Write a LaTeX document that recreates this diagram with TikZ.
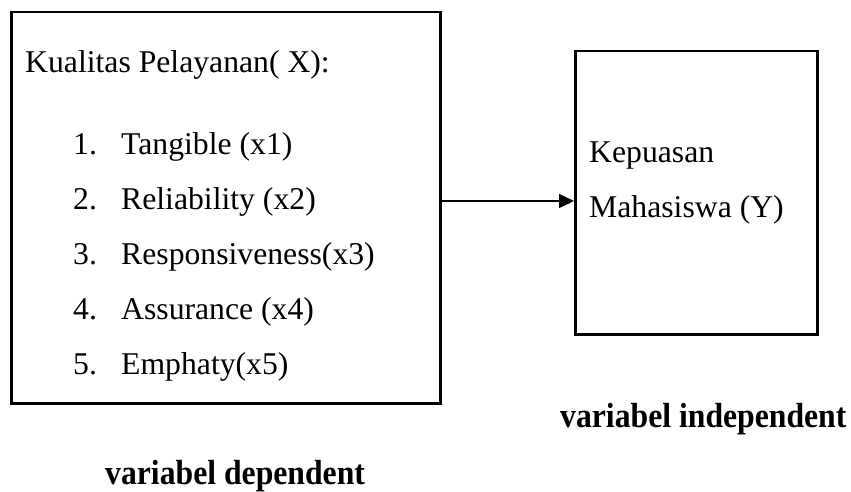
\documentclass[tikz,border=0pt]{standalone}
\usepackage{fontspec}
\setmainfont{Liberation Serif}
\usetikzlibrary{arrows.meta,positioning}

\tikzset{
  kotak/.style={draw,line width=2.5pt,inner sep=0pt,anchor=north west},
  teks/.style={font=\fontsize{31.7}{38}\selectfont,inner sep=0pt,anchor=base west},
  judul/.style={teks,font=\fontsize{31.7}{38}\selectfont\bfseries},
}
\newcommand{\tinggi}[1]{\scalebox{1}[1.1]{#1}}

\begin{document}
\begin{tikzpicture}[x=1pt,y=-1pt]
  \useasboundingbox (0,0) rectangle (851,492);

  % kotak variabel X dan Y
  \node[kotak,minimum width=429pt,minimum height=391pt] (kualitas) at (10,11) {};
  \node[kotak,minimum width=242pt,minimum height=283pt] (kepuasan) at (574,50) {};

  % isi kotak X
  \node[teks] (x)  at (25,73)  {Kualitas Pelayanan( X):};
  \node[teks] (n1) at (73,154) {1.};
  \node[teks] (x1) at (121,154) {Tangible (x1)};
  \node[teks] (n2) at (73,209) {2.};
  \node[teks] (x2) at (121,209) {Reliability (x2)};
  \node[teks] (n3) at (73,264) {3.};
  \node[teks] (x3) at (121,264) {Responsiveness(x3)};
  \node[teks] (n4) at (73,319) {4.};
  \node[teks] (x4) at (121,319) {Assurance (x4)};
  \node[teks] (n5) at (73,374) {5.};
  \node[teks] (x5) at (121,374) {Emphaty(x5)};

  % isi kotak Y
  \node[teks] (y1) at (589,162) {Kepuasan};
  \node[teks] (y2) at (589,217) {Mahasiswa (Y)};

  % keterangan
  \node[judul] (indep) at (560,427) {\tinggi{variabel independent}};
  \node[judul] (dep)   at (105,484) {\tinggi{variabel dependent}};

  % panah X ke Y
  \coordinate (panah) at (439,201);
  \draw[line width=1.5pt,-{Triangle[length=15pt,width=14pt]}] (panah) -- (panah -| kepuasan.west);

\end{tikzpicture}
\end{document}
